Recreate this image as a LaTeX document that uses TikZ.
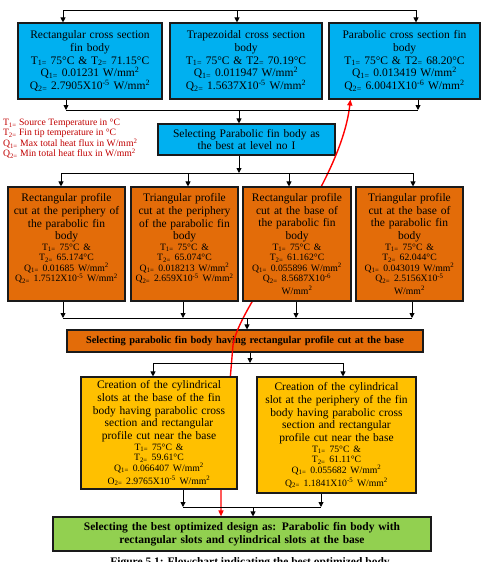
\documentclass[tikz,border=0pt]{standalone}
\usepackage{fontspec}
\setmainfont{Liberation Serif}
\usetikzlibrary{arrows.meta, calc}
\definecolor{cblue}{HTML}{00B0F0}
\definecolor{corange}{HTML}{E36C09}
\definecolor{cyellow}{HTML}{FFC000}
\definecolor{cgreen}{HTML}{92D050}
\definecolor{cred}{HTML}{C00000}
\definecolor{cline}{HTML}{1A1A1A}
\newcommand{\lo}[1]{\textsubscript{#1}}
\newcommand{\wmm}{W/mm\textsuperscript{2}}
\newcommand{\dat}{\fontsize{9.7}{10.5}\selectfont}
\tikzset{
  every picture/.style={line width=1pt},
  box/.style={draw=cline, fill=#1, align=center, inner sep=2pt, line width=1.1pt,
    font=\fontsize{11.5}{12.8}\selectfont},
  box/.default=cblue,
  arrow/.style={-{Triangle[length=5pt, width=5pt]}, draw=black, line width=0.9pt},
  bus/.style={draw=black, line width=0.9pt},
  redarrow/.style={{Triangle[length=6pt, width=5pt]}-{Triangle[length=6pt, width=5pt]}, draw=red, line width=1.4pt},
  legend/.style={text=cred, align=left, anchor=north west, inner sep=0pt, font=\fontsize{9.7}{9.8}\selectfont},
}

\begin{document}
\begin{tikzpicture}[x=1pt, y=-1pt]
  \useasboundingbox (0,0) rectangle (493,570);
  % level no I : cross sections
  \node[box=cblue, minimum width=144pt, minimum height=76pt, text width=138pt] (rectcs) at (90,61)
    {Rectangular cross section\\ fin body\\ T\lo{1=} 75°C \& T\lo{2=} 71.15°C\\ Q\lo{1=} 0.01231 \wmm\\ Q\lo{2=} 2.7905X10\textsuperscript{-5} \wmm};
  \node[box=cblue, minimum width=152pt, minimum height=76pt, text width=146pt] (trapcs) at (246,61)
    {Trapezoidal cross section\\ body\\ T\lo{1=} 75°C \& T2\lo{=} 70.19°C\\ Q\lo{1=} 0.011947 \wmm\\ Q\lo{2=} 1.5637X10\textsuperscript{-5} \wmm};
  \node[box=cblue, minimum width=151pt, minimum height=76pt, text width=145pt] (parabcs) at (404.5,61)
    {Parabolic cross section fin\\ body\\ T\lo{1=} 75°C \& T2\lo{=} 68.20°C\\ Q\lo{1=} 0.013419 \wmm\\ Q\lo{2=} 6.0041X10\textsuperscript{-6} \wmm};
  \node[box=cblue, minimum width=177pt, minimum height=31pt, text width=171pt] (bestcs) at (246.5,139.5)
    {Selecting Parabolic fin body as\\ the best at level no I};
  \node[legend] (notes) at (2.5,119)
    {T\lo{1=} Source Temperature in °C\\ T\lo{2=} Fin tip temperature in °C\\ Q\lo{1=} Max total heat flux in \wmm\\ Q\lo{2=} Min total heat flux in \wmm};

  % level no II : profile cuts
  \node[box=corange, minimum width=117pt, minimum height=114pt, text width=113pt] (ora) at (66.5,244)
    {Rectangular profile\\ cut at the periphery of\\ the parabolic fin\\ body\par
     \dat T\lo{1=} 75°C \&\\ T\lo{2=} 65.174°C\\ Q\lo{1=} 0.01685 \wmm\\ Q\lo{2=} 1.7512X10\textsuperscript{-5} \wmm\\ \mbox{}};
  \node[box=corange, minimum width=107pt, minimum height=114pt, text width=103pt] (orb) at (184.5,244)
    {Triangular profile\\ cut at the periphery\\ of the parabolic fin\\ body\par
     \dat T\lo{1=} 75°C \&\\ T\lo{2=} 65.074°C\\ Q\lo{1=} 0.018213 \wmm\\ Q\lo{2=} 2.659X10\textsuperscript{-5} \wmm\\ \mbox{}};
  \node[box=corange, minimum width=107pt, minimum height=114pt, text width=103pt] (ord) at (409.5,244)
    {Triangular profile\\ cut at the base of\\ the parabolic fin\\ body\par
     \dat T\lo{1=} 75°C \&\\ T\lo{2=} 62.044°C\\ Q\lo{1=} 0.043019 \wmm\\ Q\lo{2=} 2.5156X10\textsuperscript{-5}\\ \wmm};
  \node[box=corange, minimum width=356pt, minimum height=22pt, text width=350pt, font=\fontsize{10.4}{12}\selectfont\bfseries] (bestcut) at (245,341)
    {Selecting parabolic fin body having rectangular profile cut at the base};

  % level no III : slots
  \node[box=cyellow, minimum width=159pt, minimum height=116pt, text width=155pt] (slotb) at (336.5,435)
    {Creation of the cylindrical\\ slot at the periphery of the fin\\ body having parabolic cross\\ section and rectangular\\ profile cut near the base\par
     \dat T\lo{1=} 75°C \&\\ T\lo{2=} 61.11°C\\ Q\lo{1=} 0.055682 \wmm\\ Q\lo{2=} 1.1841X10\textsuperscript{-5} \wmm};
  \node[box=cgreen, minimum width=378pt, minimum height=34pt, text width=372pt, font=\fontsize{11.5}{13}\selectfont\bfseries] (final) at (242,534)
    {Selecting the best optimized design as: Parabolic fin body with\\ rectangular slots and cylindrical slots at the base};

  % the chosen path
  \coordinate (redtop) at ($(parabcs.south west)+(22,0)$);
  \coordinate (redlow) at (221,489);
  \draw[redarrow] (redtop) .. controls (340,190) and (240,300) .. (233,345) -- (redlow) -- (redlow |- final.north);

  \node[box=corange, minimum width=108pt, minimum height=114pt, text width=104pt] (orc) at (297,244)
    {Rectangular profile\\ cut at the base of\\ the parabolic fin\\ body\par
     \dat T\lo{1=} 75°C \&\\ T\lo{2=} 61.162°C\\ Q\lo{1=} 0.055896 \wmm\\ Q\lo{2=} 8.5687X10\textsuperscript{-6}\\ \wmm};
  \node[box=cyellow, minimum width=156pt, minimum height=112pt, text width=152pt] (slota) at (159,433)
    {Creation of the cylindrical\\ slots at the base of the fin\\ body having parabolic cross\\ section and rectangular\\ profile cut near the base\par
     \dat T\lo{1=} 75°C \&\\ T\lo{2=} 59.61°C\\ Q\lo{1=} 0.066407 \wmm\\ O\lo{2=} 2.9765X10\textsuperscript{-5} \wmm};

  % buses and arrows
  \draw[bus] (63,10) -- (416,10);
  \foreach \x/\n in {63/rectcs,237/trapcs,416/parabcs} {
    \coordinate (tap) at (\x,10);
    \draw[arrow] (tap) -- (tap |- \n.north);
  }
  \draw[bus] (66,110) -- (418,110);
  \foreach \x/\n in {66/rectcs,418/parabcs} {
    \coordinate (tap) at (\x,110);
    \draw[arrow] (tap |- \n.south) -- (tap);
  }
  \coordinate (tap) at (239,110);
  \draw[arrow] (tap) -- (tap |- bestcs.north);

  \draw[bus] (61,173) -- (413,173);
  \coordinate (tap) at (239,173);
  \draw[arrow] (tap |- bestcs.south) -- (tap);
  \foreach \x/\n in {61/ora,188/orb,289/orc,413/ord} {
    \coordinate (tap) at (\x,173);
    \draw[arrow] (tap) -- (tap |- \n.north);
  }

  \draw[bus] (63,318) -- (412,318);
  \foreach \x/\n in {63/ora,183/orb,296/orc,412/ord} {
    \coordinate (tap) at (\x,318);
    \draw[arrow] (tap |- \n.south) -- (tap);
  }
  \coordinate (tap) at (247,318);
  \draw[arrow] (tap) -- (tap |- bestcut.north);

  \draw[bus] (153,363) -- (343,363);
  \coordinate (tap) at (250,363);
  \draw[arrow] (tap |- bestcut.south) -- (tap);
  \foreach \x/\n in {153/slota,343/slotb} {
    \coordinate (tap) at (\x,363);
    \draw[arrow] (tap) -- (tap |- \n.north);
  }

  \draw[bus] (183,507) -- (321,507);
  \foreach \x/\n in {183/slota,321/slotb} {
    \coordinate (tap) at (\x,507);
    \draw[arrow] (tap |- \n.south) -- (tap);
  }
  \coordinate (tap) at (253,507);
  \draw[arrow] (tap) -- (tap |- final.north);

  % caption, cut off at the bottom edge
  \begin{scope}
    \clip (0,553) rectangle (493,561.5);
    \node[anchor=north, inner sep=0pt, font=\fontsize{11.5}{13}\selectfont\bfseries] (caption) at (250,557)
      {Figure 5.1: Flowchart indicating the best optimized body};
  \end{scope}
\end{tikzpicture}
\end{document}
